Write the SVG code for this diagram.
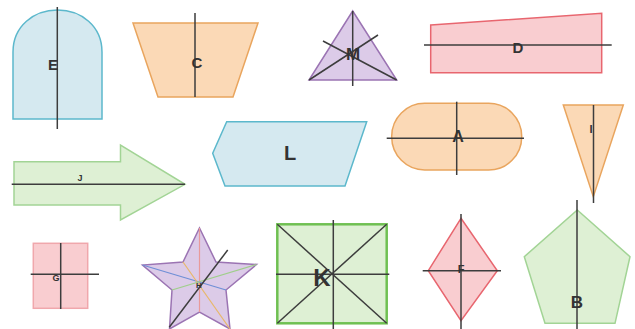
<svg xmlns="http://www.w3.org/2000/svg" width="635" height="329" viewBox="0 0 635 329">
<style>
.blue{fill:#d5e9f0;stroke:#5cb8cc;stroke-width:1.5}
.orange{fill:#fbd9b6;stroke:#e9a55e;stroke-width:1.5}
.purple{fill:#dccbe8;stroke:#9b74b3;stroke-width:1.5}
.pink{fill:#f9cdd0;stroke:#e8666f;stroke-width:1.5}
.pinkl{fill:#f9cdd0;stroke:#f0a7ac;stroke-width:1.5}
.green{fill:#def0d4;stroke:#a2d495;stroke-width:1.5}
.greenk{fill:#def0d4;stroke:#6fc052;stroke-width:2.5}
.axis{stroke:#3d3d3d;stroke-width:1.5;fill:none}
.lbl{font-family:"Liberation Sans",Arial,sans-serif;font-weight:bold;fill:#333;text-anchor:middle;dominant-baseline:central}
</style>
<g id="E">
<path class="blue" d="M13 119 L13 52 C13 26 34 10 57.5 10 C81 10 102 26 102 52 L102 119 Z"/>
<line class="axis" x1="57.3" y1="7" x2="57.3" y2="129"/>
<text class="lbl" x="53" y="64" font-size="15">E</text>
</g>
<g id="C">
<polygon class="orange" points="133,23 258,23 233,97 158,97"/>
<line class="axis" x1="195" y1="13" x2="195" y2="97"/>
<text class="lbl" x="197" y="62" font-size="15">C</text>
</g>
<g id="M">
<polygon class="purple" points="352.7,11 309,80 396.7,80"/>
<line class="axis" x1="352.7" y1="11" x2="352.7" y2="86"/>
<line class="axis" x1="323" y1="41" x2="396.7" y2="80"/>
<line class="axis" x1="309" y1="80" x2="378" y2="35"/>
<text class="lbl" x="353" y="54" font-size="17">M</text>
</g>
<g id="D">
<polygon class="pink" points="430.7,25 601.7,13.3 601.7,72.7 430.7,72.7"/>
<line class="axis" x1="424" y1="45" x2="611.7" y2="45"/>
<text class="lbl" x="518" y="47" font-size="15">D</text>
</g>
<g id="L">
<polygon class="blue" points="226.7,121.7 366.7,121.7 345,186 225,186 212.7,153.3"/>
<text class="lbl" x="290" y="153" font-size="20">L</text>
</g>
<g id="A">
<rect class="orange" x="391.7" y="103.3" width="130" height="66.7" rx="33" ry="33"/>
<line class="axis" x1="386.7" y1="138.3" x2="524" y2="138.3"/>
<line class="axis" x1="456.7" y1="101.7" x2="456.7" y2="175"/>
<text class="lbl" x="458" y="136" font-size="16">A</text>
</g>
<g id="I">
<polygon class="orange" points="563.3,105 623.3,105 593.3,196.7"/>
<line class="axis" x1="593.5" y1="105" x2="593.5" y2="203"/>
<text class="lbl" x="591" y="129" font-size="11">I</text>
</g>
<g id="J">
<polygon class="green" points="14,161.7 120.5,161.7 120.5,145 185,184.3 120.5,220 120.5,205 14,205"/>
<line class="axis" x1="11.7" y1="184.3" x2="185" y2="184.3"/>
<text class="lbl" x="80" y="178" font-size="9">J</text>
</g>
<g id="G">
<rect class="pinkl" x="33.3" y="243.3" width="54.4" height="65"/>
<line class="axis" x1="60.7" y1="243" x2="60.7" y2="309"/>
<line class="axis" x1="30.7" y1="274.3" x2="99" y2="274.3"/>
<text class="lbl" x="56" y="278" font-size="9">G</text>
</g>
<g id="H">
<polygon class="purple" points="199.5,228 216,262 256.5,264.5 226,290 230,329 199.5,312 169.5,329 172,290 142.5,265 183,262"/>
<line x1="199.5" y1="228" x2="199.5" y2="312" stroke="#e99a9a" stroke-width="1.2"/>
<line x1="142.5" y1="265" x2="226" y2="290" stroke="#6f8fd6" stroke-width="1.2"/>
<line x1="183" y1="262" x2="230" y2="329" stroke="#e8b86a" stroke-width="1.2"/>
<line x1="256.5" y1="264.5" x2="172" y2="290" stroke="#9fcf8a" stroke-width="1.2"/>
<line class="axis" x1="169.3" y1="327.3" x2="227.7" y2="250"/>
<text class="lbl" x="199" y="285" font-size="8">H</text>
</g>
<g id="K">
<rect class="greenk" x="277.3" y="224.3" width="109.4" height="99"/>
<line class="axis" x1="277.3" y1="224.3" x2="386.7" y2="323.3"/>
<line class="axis" x1="386.7" y1="224.3" x2="277.3" y2="323.3"/>
<line class="axis" x1="276" y1="274.3" x2="389.3" y2="274.3"/>
<line class="axis" x1="333.3" y1="220" x2="333.3" y2="329"/>
<text class="lbl" x="322" y="277" font-size="24">K</text>
</g>
<g id="F">
<polygon class="pink" points="461,218.3 497.3,270.7 461,320.7 428.3,270.7"/>
<line class="axis" x1="461" y1="214" x2="461" y2="329"/>
<line class="axis" x1="422.7" y1="270.7" x2="501" y2="270.7"/>
<text class="lbl" x="461" y="269" font-size="11">F</text>
</g>
<g id="B">
<polygon class="green" points="577.3,210 630,256.7 615,323.3 545,323.3 524.3,256.7"/>
<line class="axis" x1="577" y1="200" x2="577" y2="329"/>
<text class="lbl" x="577" y="302" font-size="17">B</text>
</g>
</svg>
